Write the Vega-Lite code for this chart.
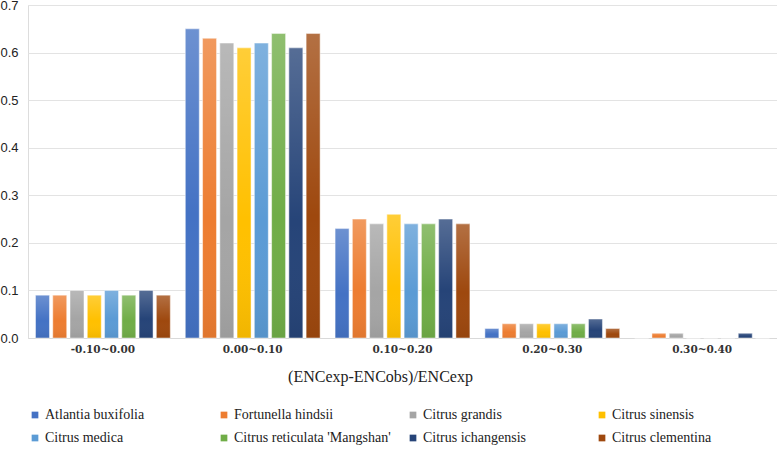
{
  "$schema": "https://vega.github.io/schema/vega-lite/v6.json",
  "width": 749,
  "height": 333,
  "autosize": "none",
  "padding": {"left": 28, "top": 5, "right": 0, "bottom": 111},
  "background": "white",
  "data": {"values": [
    {"range": "-0.10~0.00", "species": "Atlantia buxifolia", "value": 0.09},
    {"range": "-0.10~0.00", "species": "Fortunella hindsii", "value": 0.09},
    {"range": "-0.10~0.00", "species": "Citrus grandis", "value": 0.10},
    {"range": "-0.10~0.00", "species": "Citrus sinensis", "value": 0.09},
    {"range": "-0.10~0.00", "species": "Citrus medica", "value": 0.10},
    {"range": "-0.10~0.00", "species": "Citrus reticulata 'Mangshan'", "value": 0.09},
    {"range": "-0.10~0.00", "species": "Citrus ichangensis", "value": 0.10},
    {"range": "-0.10~0.00", "species": "Citrus clementina", "value": 0.09},
    {"range": "0.00~0.10", "species": "Atlantia buxifolia", "value": 0.65},
    {"range": "0.00~0.10", "species": "Fortunella hindsii", "value": 0.63},
    {"range": "0.00~0.10", "species": "Citrus grandis", "value": 0.62},
    {"range": "0.00~0.10", "species": "Citrus sinensis", "value": 0.61},
    {"range": "0.00~0.10", "species": "Citrus medica", "value": 0.62},
    {"range": "0.00~0.10", "species": "Citrus reticulata 'Mangshan'", "value": 0.64},
    {"range": "0.00~0.10", "species": "Citrus ichangensis", "value": 0.61},
    {"range": "0.00~0.10", "species": "Citrus clementina", "value": 0.64},
    {"range": "0.10~0.20", "species": "Atlantia buxifolia", "value": 0.23},
    {"range": "0.10~0.20", "species": "Fortunella hindsii", "value": 0.25},
    {"range": "0.10~0.20", "species": "Citrus grandis", "value": 0.24},
    {"range": "0.10~0.20", "species": "Citrus sinensis", "value": 0.26},
    {"range": "0.10~0.20", "species": "Citrus medica", "value": 0.24},
    {"range": "0.10~0.20", "species": "Citrus reticulata 'Mangshan'", "value": 0.24},
    {"range": "0.10~0.20", "species": "Citrus ichangensis", "value": 0.25},
    {"range": "0.10~0.20", "species": "Citrus clementina", "value": 0.24},
    {"range": "0.20~0.30", "species": "Atlantia buxifolia", "value": 0.02},
    {"range": "0.20~0.30", "species": "Fortunella hindsii", "value": 0.03},
    {"range": "0.20~0.30", "species": "Citrus grandis", "value": 0.03},
    {"range": "0.20~0.30", "species": "Citrus sinensis", "value": 0.03},
    {"range": "0.20~0.30", "species": "Citrus medica", "value": 0.03},
    {"range": "0.20~0.30", "species": "Citrus reticulata 'Mangshan'", "value": 0.03},
    {"range": "0.20~0.30", "species": "Citrus ichangensis", "value": 0.04},
    {"range": "0.20~0.30", "species": "Citrus clementina", "value": 0.02},
    {"range": "0.30~0.40", "species": "Atlantia buxifolia", "value": 0},
    {"range": "0.30~0.40", "species": "Fortunella hindsii", "value": 0.01},
    {"range": "0.30~0.40", "species": "Citrus grandis", "value": 0.01},
    {"range": "0.30~0.40", "species": "Citrus sinensis", "value": 0},
    {"range": "0.30~0.40", "species": "Citrus medica", "value": 0},
    {"range": "0.30~0.40", "species": "Citrus reticulata 'Mangshan'", "value": 0},
    {"range": "0.30~0.40", "species": "Citrus ichangensis", "value": 0.01},
    {"range": "0.30~0.40", "species": "Citrus clementina", "value": 0}
  ]},
  "encoding": {
    "x": {
      "field": "range", "type": "nominal", "sort": null,
      "scale": {"paddingInner": 0.1, "paddingOuter": 0.05},
      "axis": {
        "title": "(ENCexp-ENCobs)/ENCexp",
        "labelAngle": 0,
        "labelFont": "DejaVu Serif", "labelFontWeight": "bold", "labelFontSize": 10.5,
        "labelColor": "#333333", "labelPadding": 6,
        "ticks": false, "domainColor": "#d9d9d9",
        "titleFont": "Liberation Serif", "titleFontSize": 16, "titleFontWeight": "normal",
        "titleColor": "#222222", "titlePadding": 14, "titleX": 352
      }
    },
    "xOffset": {
      "field": "species", "type": "nominal",
      "sort": ["Atlantia buxifolia", "Fortunella hindsii", "Citrus grandis", "Citrus sinensis", "Citrus medica", "Citrus reticulata 'Mangshan'", "Citrus ichangensis", "Citrus clementina"],
      "scale": {"paddingInner": 0.19, "paddingOuter": 0}
    },
    "y": {
      "field": "value", "type": "quantitative",
      "scale": {"domain": [0, 0.7], "nice": false},
      "axis": {
        "title": null, "values": [0, 0.1, 0.2, 0.3, 0.4, 0.5, 0.6, 0.7],
        "domain": false, "ticks": false, "labelPadding": 10,
        "labelFont": "Liberation Sans", "labelFontSize": 13, "labelColor": "#222222",
        "gridColor": "#e3e3e3"
      }
    }
  },
  "layer": [
    {
      "mark": {"type": "bar", "stroke": "white", "strokeWidth": 0.5},
      "encoding": {
        "color": {
          "field": "species", "type": "nominal",
          "scale": {
            "domain": ["Atlantia buxifolia", "Fortunella hindsii", "Citrus grandis", "Citrus sinensis", "Citrus medica", "Citrus reticulata 'Mangshan'", "Citrus ichangensis", "Citrus clementina"],
            "range": ["#4472C4", "#ED7D31", "#A5A5A5", "#FFC000", "#5B9BD5", "#70AD47", "#264478", "#9E480E"]
          },
          "legend": {
            "title": null, "orient": "bottom", "columns": 4, "gridAlign": "all",
            "symbolType": "square", "symbolSize": 45, "symbolStrokeWidth": 0,
            "labelFont": "Liberation Serif", "labelFontSize": 14, "labelColor": "#222222",
            "labelOffset": 3, "columnPadding": 15, "rowPadding": 9, "offset": 23,
            "labelLimit": 200
          }
        }
      }
    },
    {
      "mark": {
        "type": "bar",
        "color": {
          "gradient": "linear", "x1": 0, "y1": 0, "x2": 0, "y2": 1,
          "stops": [
            {"offset": 0, "color": "rgba(255,255,255,0.22)"},
            {"offset": 0.6, "color": "rgba(255,255,255,0.0)"},
            {"offset": 1, "color": "rgba(0,0,0,0.06)"}
          ]
        }
      }
    }
  ]
}
